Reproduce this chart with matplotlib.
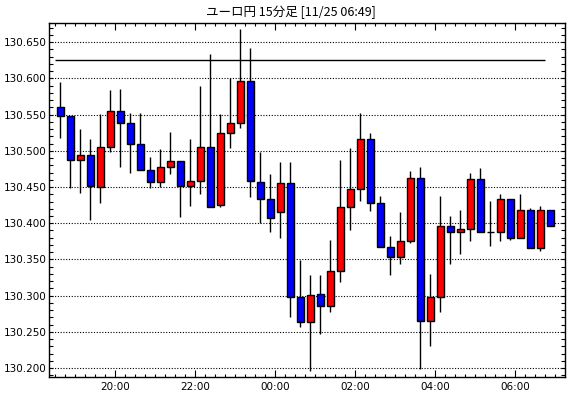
"""
ユーロ円 15分足 ローソク足チャート
"""
import matplotlib
matplotlib.use('Agg')
import matplotlib.pyplot as plt
from matplotlib.ticker import FixedLocator, MultipleLocator, FuncFormatter
import pandas as pd

plt.rcParams['font.family'] = ['DejaVu Sans']

TITLE = 'ユーロ円 15分足 [11/25 06:49]'
START = pd.Timestamp('2023-11-24 18:30')

opens = [130.560, 130.548, 130.487, 130.494, 130.450, 130.505, 130.555, 130.538, 130.509, 130.473,
         130.457, 130.477, 130.486, 130.451, 130.459, 130.505, 130.425, 130.524, 130.538, 130.596,
         130.457, 130.433, 130.415, 130.455, 130.298, 130.263, 130.302, 130.285, 130.334, 130.422,
         130.447, 130.516, 130.428, 130.367, 130.354, 130.375, 130.462, 130.265, 130.298, 130.396,
         130.388, 130.392, 130.461, 130.388, 130.388, 130.433, 130.380, 130.418, 130.366, 130.418]
highs = [130.595, 130.548, 130.530, 130.516, 130.551, 130.584, 130.585, 130.552, 130.552, 130.492,
         130.503, 130.526, 130.486, 130.516, 130.590, 130.634, 130.551, 130.600, 130.668, 130.642,
         130.498, 130.468, 130.484, 130.484, 130.349, 130.329, 130.329, 130.377, 130.487, 130.504,
         130.552, 130.524, 130.438, 130.383, 130.415, 130.472, 130.477, 130.330, 130.438, 130.410,
         130.418, 130.469, 130.476, 130.431, 130.440, 130.433, 130.440, 130.421, 130.424, 130.418]
lows = [130.518, 130.448, 130.442, 130.404, 130.428, 130.498, 130.477, 130.469, 130.473, 130.448,
        130.450, 130.468, 130.409, 130.424, 130.441, 130.423, 130.422, 130.504, 130.532, 130.436,
        130.400, 130.388, 130.380, 130.271, 130.256, 130.196, 130.247, 130.278, 130.319, 130.390,
        130.431, 130.417, 130.367, 130.329, 130.344, 130.372, 130.198, 130.231, 130.277, 130.344,
        130.357, 130.376, 130.388, 130.368, 130.376, 130.377, 130.380, 130.366, 130.362, 130.396]
closes = [130.548, 130.487, 130.494, 130.452, 130.505, 130.555, 130.538, 130.509, 130.473, 130.457,
          130.478, 130.486, 130.451, 130.459, 130.505, 130.423, 130.524, 130.538, 130.596, 130.458,
          130.433, 130.407, 130.455, 130.298, 130.263, 130.301, 130.285, 130.334, 130.422, 130.447,
          130.516, 130.428, 130.367, 130.354, 130.375, 130.462, 130.265, 130.298, 130.396, 130.388,
          130.392, 130.461, 130.388, 130.388, 130.433, 130.380, 130.418, 130.366, 130.418, 130.396]

REF_LEVEL = 130.625
X_TICK_LABELS = ['20:00', '22:00', '00:00', '02:00', '04:00', '06:00']

UP_COLOR = '#ff0000'
DOWN_COLOR = '#0000ff'


def time_to_x(ts):
    # bar i is centred at x=i, bar boundaries at i +/- 0.5
    return (ts - START) / pd.Timedelta(minutes=15) - 0.5


def main():
    df = pd.DataFrame({'open': opens, 'high': highs, 'low': lows, 'close': closes})
    x = list(range(len(df)))

    fig = plt.figure(figsize=(5.70, 3.98), dpi=100)
    ax = fig.add_axes([49 / 570, 1 - 376.7 / 398, 516 / 570, 354 / 398])

    ax.vlines(x, df['low'], df['high'], color='black', linewidth=1, zorder=2)
    bottoms = df[['open', 'close']].min(axis=1)
    heights = (df['close'] - df['open']).abs()
    colors = [UP_COLOR if c > o else (DOWN_COLOR if c < o else 'black')
              for o, c in zip(df['open'], df['close'])]
    ax.bar(x, heights, bottom=bottoms, width=0.68, color=colors,
           edgecolor='black', linewidth=1, zorder=3)

    ax.hlines(REF_LEVEL, -0.5, len(df) - 1.5, color='black', linewidth=1, zorder=4)

    ax.set_xlim(-1.13, 50.47)
    ax.set_ylim(130.188, 130.677)

    # y axis
    ax.yaxis.set_major_locator(MultipleLocator(0.05))
    ax.yaxis.set_minor_locator(MultipleLocator(0.01))
    ax.yaxis.set_major_formatter(FuncFormatter(lambda v, p: f'{v:.3f}'))
    ax.grid(True, axis='y', which='major', color='black', linestyle=(0, (1, 1.5)), linewidth=0.8)
    ax.set_axisbelow(True)

    # x axis
    first_day = START.normalize()
    tick_times = []
    for lab in X_TICK_LABELS:
        t = first_day + pd.Timedelta(lab + ':00')
        if t < START:
            t += pd.Timedelta(days=1)
        tick_times.append(t)
    ax.xaxis.set_major_locator(FixedLocator([time_to_x(t) for t in tick_times]))
    ax.xaxis.set_minor_locator(MultipleLocator(1, offset=0.5))
    ax.set_xticklabels(X_TICK_LABELS)

    ax.tick_params(axis='both', which='both', direction='in', top=True, right=True,
                   labelsize=7.5, colors='black', width=0.8)
    ax.tick_params(axis='x', which='major', length=5, pad=4)
    ax.tick_params(axis='x', which='minor', length=2.5)
    ax.tick_params(axis='y', which='major', length=3, pad=2)
    ax.tick_params(axis='y', which='minor', length=3)
    for spine in ax.spines.values():
        spine.set_linewidth(1)

    fig.text(0.51, 0.968, TITLE, ha='center', va='center', fontsize=9,
             family=['Noto Sans CJK JP', 'DejaVu Sans'])

    fig.savefig('out.png', dpi=100, facecolor='white')
    plt.close(fig)


if __name__ == '__main__':
    main()
